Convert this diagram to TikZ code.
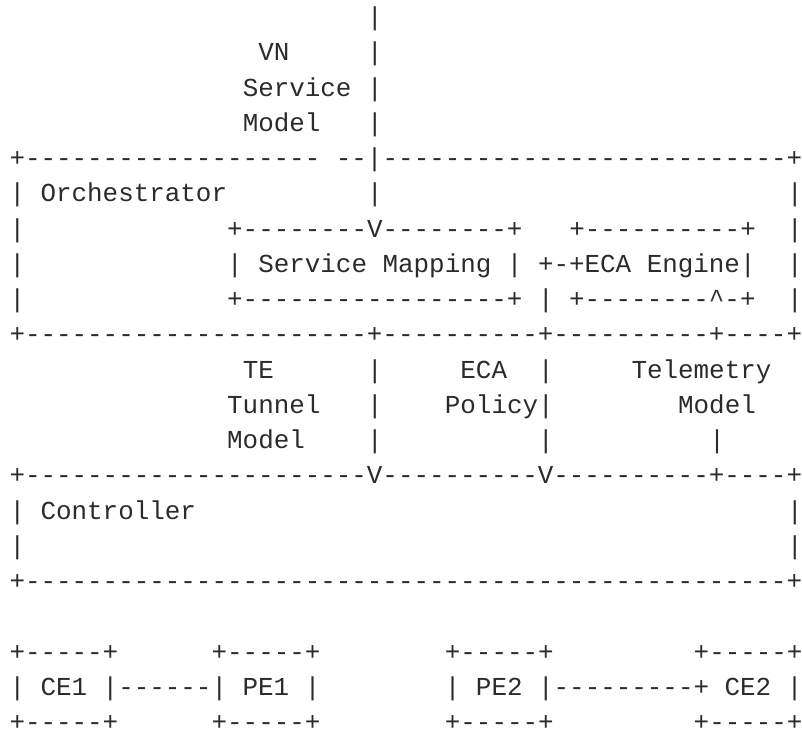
\documentclass[tikz,border=0pt]{standalone}
\usepackage{fontspec}
\setmonofont{Liberation Mono}
\usepackage{tikz}
\usetikzlibrary{positioning}
\definecolor{asciigray}{HTML}{2B2B2B}

\begin{document}
\begin{tikzpicture}[x=15.55pt, y=-35.25pt,
		art/.style={anchor=base west, inner sep=0pt, outer sep=0pt, text=asciigray,
			font=\ttfamily\fontsize{25.9pt}{30pt}\selectfont}]
		\useasboundingbox (-9.5pt,25.5pt) rectangle (792.5pt,-713.5pt);

		% northbound model into the orchestrator
		\node[art] (vnbar) at (23,0) {|};
		\node[art] (vn) at (16,1) {VN};
		\node[art] (vnbar1) at (23,1) {|};
		\node[art] (vnsvc) at (15,2) {Service |};
		\node[art] (vnmodel) at (15,3) {Model};
		\node[art] (vnbar3) at (23,3) {|};

		% orchestrator
		\node[art] (orchtopl) at (0,4) {+------------------- --|};
		\node[art] (orchtopr) at (24,4) {--------------------------+};
		\node[art] (orch) at (0,5) {| Orchestrator};
		\node[art] (orchin) at (23,5) {|};
		\node[art] (orchr5) at (50,5) {|};
		\node[art] (orchl6) at (0,6) {|};
		\node[art] (maptop) at (14,6) {+--------V--------+};
		\node[art] (ecatop) at (36,6) {+----------+};
		\node[art] (orchr6) at (50,6) {|};
		\node[art] (orchl7) at (0,7) {|};
		\node[art] (map) at (14,7) {| Service Mapping | +-+ECA Engine|};
		\node[art] (orchr7) at (50,7) {|};
		\node[art] (orchl8) at (0,8) {|};
		\node[art] (mapbot) at (14,8) {+-----------------+ | +--------\textasciicircum-+};
		\node[art] (orchr8) at (50,8) {|};
		\node[art] (orchbot) at (0,9) {+----------------------+----------+----------+----+};

		% southbound models
		\node[art] (te) at (15,10) {TE};
		\node[art] (tebar10) at (23,10) {|};
		\node[art] (eca) at (29,10) {ECA};
		\node[art] (ecabar10) at (34,10) {|};
		\node[art] (telem) at (40,10) {Telemetry};
		\node[art] (tunnel) at (14,11) {Tunnel};
		\node[art] (tebar11) at (23,11) {|};
		\node[art] (policy) at (28,11) {Policy|};
		\node[art] (telmodel) at (43,11) {Model};
		\node[art] (temodel) at (14,12) {Model};
		\node[art] (tebar12) at (23,12) {|};
		\node[art] (ecabar12) at (34,12) {|};
		\node[art] (telbar12) at (45,12) {|};

		% controller
		\node[art] (ctrltop) at (0,13) {+----------------------V----------V----------+----+};
		\node[art] (ctrl) at (0,14) {| Controller};
		\node[art] (ctrlr14) at (50,14) {|};
		\node[art] (ctrll15) at (0,15) {|};
		\node[art] (ctrlr15) at (50,15) {|};
		\node[art] (ctrlbot) at (0,16) {+-------------------------------------------------+};

		% network elements
		\node[art] (ce1top) at (0,18) {+-----+};
		\node[art] (pe1top) at (13,18) {+-----+};
		\node[art] (pe2top) at (28,18) {+-----+};
		\node[art] (ce2top) at (44,18) {+-----+};
		\node[art] (cepe1) at (0,19) {| CE1 |------| PE1 |};
		\node[art] (pece2) at (28,19) {| PE2 |---------+ CE2 |};
		\node[art] (ce1bot) at (0,20) {+-----+};
		\node[art] (pe1bot) at (13,20) {+-----+};
		\node[art] (pe2bot) at (28,20) {+-----+};
		\node[art] (ce2bot) at (44,20) {+-----+};
	\end{tikzpicture}
\end{document}
